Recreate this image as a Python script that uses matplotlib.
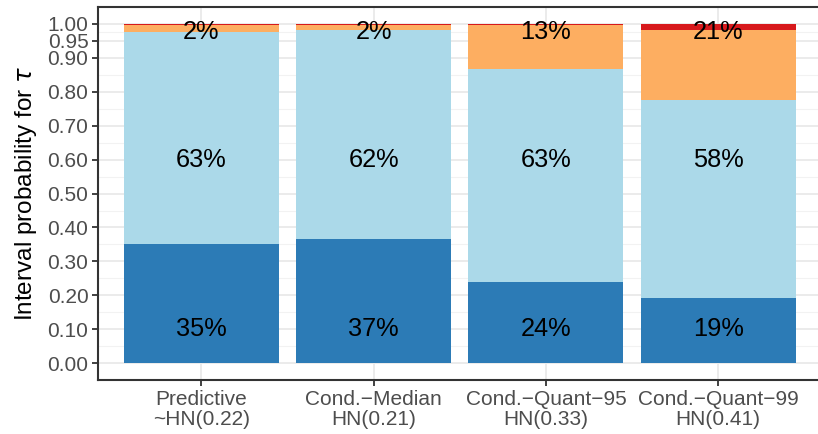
import numpy as np
import matplotlib.pyplot as plt

plt.rcParams['font.family'] = ['Liberation Sans', 'DejaVu Sans']

# interval probabilities for tau, one bar per prior
priors = ["Predictive\n~HN(0.22)", "Cond.\u2212Median\nHN(0.21)",
          "Cond.\u2212Quant\u221295\nHN(0.33)", "Cond.\u2212Quant\u221299\nHN(0.41)"]
p_low = [0.350, 0.366, 0.238, 0.191]
p_mid = [0.626, 0.616, 0.630, 0.585]
p_high = [0.022, 0.016, 0.130, 0.206]
p_top = [0.002, 0.002, 0.002, 0.018]

yticks = [0.0, 0.1, 0.2, 0.3, 0.4, 0.5, 0.6, 0.7, 0.8, 0.9, 0.95, 1.0]

colors = ["#2C7BB6", "#ABD9E9", "#FDAE61", "#D7191C"]

fig = plt.figure(figsize=(8.18, 4.34), dpi=100)
ax = fig.add_axes([0.12, 0.124, 0.88, 0.86])

x = np.arange(len(priors))
bottom = np.zeros(len(priors))
for vals, col in zip([p_low, p_mid, p_high, p_top], colors):
    ax.bar(x, vals, width=0.9, bottom=bottom, color=col, zorder=2)
    bottom += np.array(vals)

# percentage labels at fixed heights
for i in range(len(priors)):
    for vals, ypos in zip([p_low, p_mid, p_high], [0.10, 0.60, 0.975]):
        ax.text(x[i], ypos, f"{round(vals[i] * 100)}%", ha='center', va='center',
                fontsize=18.3, color='black', zorder=3)

ax.set_xlim(-0.6, 3.58)
ax.set_ylim(-0.05, 1.05)
ax.set_xticks(x)
ax.set_xticklabels(priors, linespacing=1.05)
ax.set_yticks(yticks)
ax.set_yticklabels([f"{t:.2f}" for t in yticks])
ax.set_yticks([0.05, 0.15, 0.25, 0.35, 0.45, 0.55, 0.65, 0.75, 0.85, 0.975], minor=True)
ax.set_ylabel("Interval probability for $\\tau$", fontsize=17.5, color='black', labelpad=6)

ax.grid(True, which='major', color='#EBEBEB', linewidth=1.4, zorder=0)
ax.grid(True, which='minor', axis='y', color='#F2F2F2', linewidth=0.8, zorder=0)
ax.set_axisbelow(True)

ax.tick_params(axis='both', which='major', labelsize=15, colors='#333333',
               labelcolor='#4D4D4D', length=4, width=1.3, pad=3)
ax.tick_params(axis='both', which='minor', length=0)

for side in ['left', 'bottom', 'top']:
    ax.spines[side].set_color('#333333')
    ax.spines[side].set_linewidth(1.5)
ax.spines['right'].set_visible(False)

fig.savefig("out.png", dpi=100)
